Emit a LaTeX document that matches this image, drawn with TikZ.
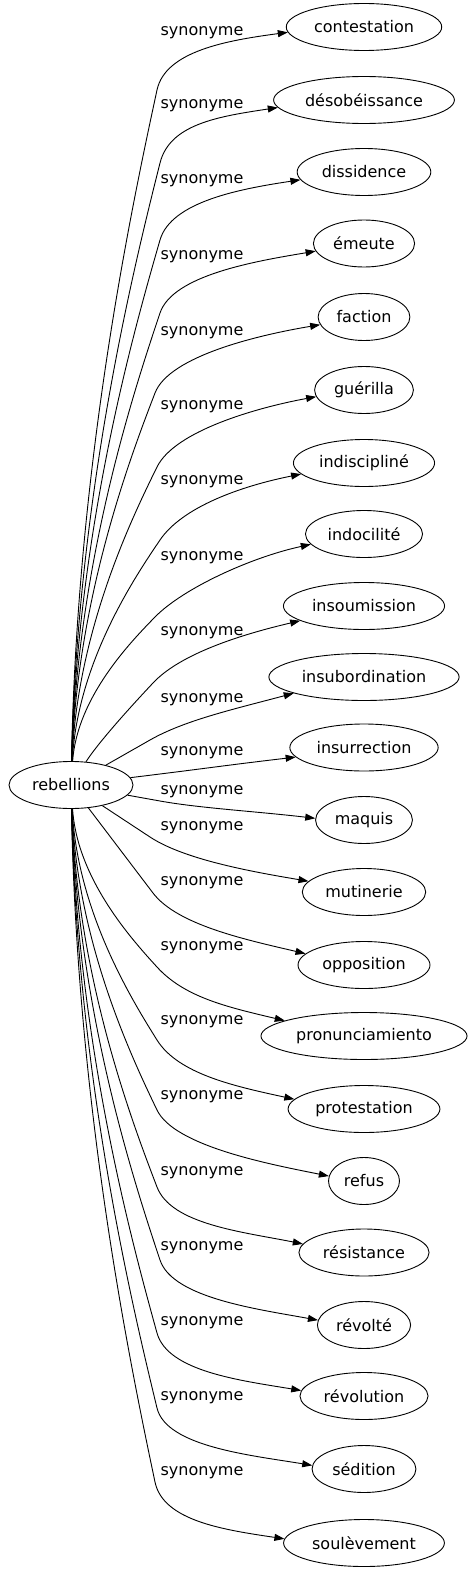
\documentclass[tikz,border=0pt]{standalone}
\usepackage{fontspec}
\setmainfont{DejaVu Sans}
\usetikzlibrary{shapes.geometric, arrows.meta}

\begin{document}
\begin{tikzpicture}[x = 1pt, y = -1pt, line width = 0.9pt, font = \fontsize{16}{19}\selectfont,
  word/.style = { ellipse, draw, inner xsep = 5pt, inner ysep = 2pt, minimum height = 47pt },
  syn/.style = { inner sep = 0pt },
  link/.style = { -{Triangle[length = 10pt, width = 7pt]} }]
  \useasboundingbox (0, 0) rectangle (470, 1571);

  \node [word] (reb) at (71, 785) {rebellions};

  \node [word] (contestation) at (364, 27) {contestation};
  \node [word] (desobeissance) at (364, 100) {désobéissance};
  \node [word] (dissidence) at (364, 172) {dissidence};
  \node [word] (emeute) at (364, 243.5) {émeute};
  \node [word] (faction) at (364, 317) {faction};
  \node [word] (guerilla) at (364, 390) {guérilla};
  \node [word] (indiscipline) at (364, 463) {indiscipliné};
  \node [word] (indocilite) at (364, 534) {indocilité};
  \node [word] (insoumission) at (364, 606) {insoumission};
  \node [word] (insubordination) at (364, 677) {insubordination};
  \node [word] (insurrection) at (364, 747.5) {insurrection};
  \node [word] (maquis) at (364, 820) {maquis};
  \node [word] (mutinerie) at (364, 892) {mutinerie};
  \node [word] (opposition) at (364, 965) {opposition};
  \node [word] (pronunciamiento) at (364, 1036) {pronunciamiento};
  \node [word] (protestation) at (364, 1109) {protestation};
  \node [word] (refus) at (364, 1181) {refus};
  \node [word] (resistance) at (364, 1252.5) {résistance};
  \node [word] (revolte) at (364, 1325) {révolté};
  \node [word] (revolution) at (364, 1396) {révolution};
  \node [word] (sedition) at (364, 1469) {sédition};
  \node [word] (soulevement) at (364, 1543) {soulèvement};

  \node [syn] (s0) at (202, 33) {synonyme};
  \node [syn] (s1) at (202, 106) {synonyme};
  \node [syn] (s2) at (202, 181) {synonyme};
  \node [syn] (s3) at (202, 257) {synonyme};
  \node [syn] (s4) at (202, 333) {synonyme};
  \node [syn] (s5) at (202, 407) {synonyme};
  \node [syn] (s6) at (202, 482) {synonyme};
  \node [syn] (s7) at (202, 558) {synonyme};
  \node [syn] (s8) at (202, 633) {synonyme};
  \node [syn] (s9) at (202, 700) {synonyme};
  \node [syn] (s10) at (202, 753) {synonyme};
  \node [syn] (s11) at (202, 792) {synonyme};
  \node [syn] (s12) at (202, 828) {synonyme};
  \node [syn] (s13) at (202, 883) {synonyme};
  \node [syn] (s14) at (202, 948) {synonyme};
  \node [syn] (s15) at (202, 1022) {synonyme};
  \node [syn] (s16) at (202, 1097) {synonyme};
  \node [syn] (s17) at (202, 1173) {synonyme};
  \node [syn] (s18) at (202, 1248) {synonyme};
  \node [syn] (s19) at (202, 1323) {synonyme};
  \node [syn] (s20) at (202, 1398) {synonyme};
  \node [syn] (s21) at (202, 1473) {synonyme};

  \draw [link] (reb) .. controls (77.2, 459.6) and (133.1, 200.9) .. (157, 90) .. controls (165.4, 50.9) and +(-60, 8) .. (contestation.184);
  \draw [link] (reb) .. controls (77.4, 492.5) and (135.2, 261.9) .. (160, 163) .. controls (169.7, 124.2) and +(-60, 9) .. (desobeissance.185);
  \draw [link] (reb) .. controls (77.4, 527.1) and (135.2, 326.1) .. (160, 240) .. controls (171.1, 201.6) and +(-60, 9) .. (dissidence.187);
  \draw [link] (reb) .. controls (77.4, 560) and (135.2, 387.1) .. (160, 313) .. controls (172.7, 275.1) and +(-60, 10) .. (emeute.189);
  \draw [link] (reb) .. controls (77.1, 595.9) and (131.6, 453.9) .. (155, 393) .. controls (169.3, 355.7) and +(-60, 10) .. (faction.190);
  \draw [link] (reb) .. controls (77.2, 629.3) and (133.1, 515.7) .. (157, 467) .. controls (174.6, 431.1) and +(-60, 11) .. (guerilla.188);
  \draw [link] (reb) .. controls (77.4, 662.1) and (135.2, 576.6) .. (160, 540) .. controls (182.4, 506.9) and +(-60, 12) .. (indiscipline.190);
  \draw [link] (reb) .. controls (77.1, 696.8) and (131.6, 641) .. (155, 617) .. controls (183, 588.4) and +(-60, 13) .. (indocilite.191);
  \draw [link] (reb) .. controls (100, 740) and (137, 700) .. (153, 683) .. controls (180, 654) and +(-60, 14) .. (insoumission.193);
  \draw [link] (reb) -- (150, 740) .. controls (184.8, 720.2) and +(-60, 16) .. (insubordination.193);
  \draw [link] (reb) -- (160, 774) .. controls (199.7, 769.1) and +(-60, 7) .. (insurrection.188);
  \draw [link] (reb) -- (160, 801) .. controls (199.4, 808.1) and +(-60, -7) .. (maquis.178);
  \draw [link] (reb) -- (150, 837) .. controls (183.4, 859) and +(-60, -10) .. (mutinerie.169);
  \draw [link] (reb) -- (153, 893) .. controls (177.2, 924.9) and +(-60, -14) .. (opposition.169);
  \draw [link] (reb) .. controls (77.2, 879.6) and (133.1, 940.8) .. (157, 967) .. controls (184, 996.6) and +(-60, -14) .. (pronunciamiento.169);
  \draw [link] (reb) .. controls (77.2, 912.4) and (133.1, 1001.7) .. (157, 1040) .. controls (178.2, 1073.9) and +(-60, -13) .. (protestation.172);
  \draw [link] (reb) .. controls (77.2, 943.9) and (133.1, 1060.2) .. (157, 1110) .. controls (174.3, 1146) and +(-60, -12) .. (refus.172);
  \draw [link] (reb) .. controls (77.2, 978.6) and (133.1, 1124.5) .. (157, 1187) .. controls (171.3, 1224.4) and +(-60, -12) .. (resistance.172);
  \draw [link] (reb) .. controls (77.4, 1011.4) and (135.2, 1185.4) .. (160, 1260) .. controls (172.6, 1298) and +(-60, -11) .. (revolte.174);
  \draw [link] (reb) .. controls (77.2, 1044.3) and (133.1, 1246.4) .. (157, 1333) .. controls (167.7, 1371.6) and +(-60, -10) .. (revolution.175);
  \draw [link] (reb) .. controls (77.2, 1078) and (133.1, 1309) .. (157, 1408) .. controls (166.4, 1446.9) and +(-60, -10) .. (sedition.176);
  \draw [link] (reb) .. controls (77.1, 1111.3) and (131.6, 1370.8) .. (155, 1482) .. controls (163.2, 1521.1) and +(-60, -9) .. (soulevement.177);
\end{tikzpicture}
\end{document}
